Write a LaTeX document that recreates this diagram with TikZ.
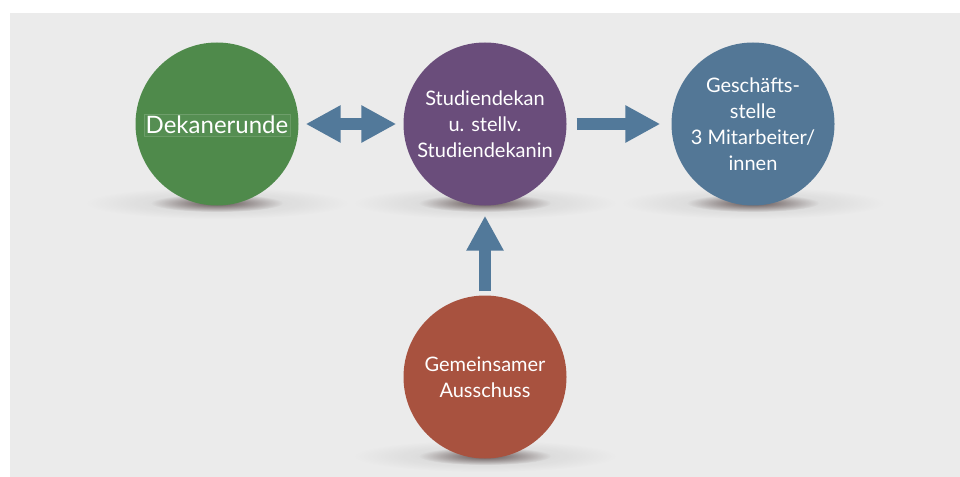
\documentclass[tikz,border=0pt]{standalone}
\usepackage{fontspec}
\setmainfont{Lato}
\usetikzlibrary{arrows.meta,fadings}

\definecolor{bgrey}{HTML}{EBEBEB}
\definecolor{dekgreen}{HTML}{4F8A4B}
\definecolor{studpurple}{HTML}{6A4D7B}
\definecolor{gsblue}{HTML}{537796}
\definecolor{gared}{HTML}{A8523F}
\definecolor{arrowblue}{HTML}{52799A}
\definecolor{shadowbrown}{HTML}{4A3838}

\tikzfading[name=softfade,inner color=transparent!0,outer color=transparent!100]

\tikzset{
  bubble/.style={circle,minimum size=163pt,inner sep=0pt,text=white,align=center,
    font=\fontsize{20}{26}\selectfont},
  blockarrow/.style={draw=arrowblue,line width=12pt},
  tip/.tip={Triangle[length=35pt,width=35pt]}
}

\newcommand{\groundshadow}[2]{%
  \fill[black,opacity=0.12,path fading=softfade] (#1,#2) ellipse (132 and 16);
  \fill[shadowbrown,opacity=0.8,path fading=softfade] (#1,#2) ellipse (66 and 9);
}

\begin{document}
\begin{tikzpicture}[x=1pt,y=-1pt]
  % page and grey backdrop
  \useasboundingbox (0,0) rectangle (960,476);
  \fill[white] (-5,-5) rectangle (970,486);
  \fill[bgrey] (10,13) rectangle (970,486);

  % shadows under the circles
  \groundshadow{217}{203}
  \groundshadow{485}{203}
  \groundshadow{753}{203}
  \groundshadow{485}{456}

  % circles
  \node[bubble,fill=dekgreen] (dekan) at (217,124) {};
  \node[draw=white,draw opacity=0.15,fill=white,fill opacity=0.04,text opacity=1,
    text=white,inner sep=2pt,font=\fontsize{24}{28}\selectfont] (dekantext) at (217,125) {Dekanerunde};
  \node[bubble,fill=studpurple] (studdekan) at (485,124)
    {Studiendekan\\u. stellv.\\Studiendekanin};
  \node[bubble,fill=gsblue] (gstelle) at (753,124)
    {Geschäfts-\\stelle\\3 Mitarbeiter/\\innen};
  \node[bubble,fill=gared] (ausschuss) at (485,377)
    {Gemeinsamer\\Ausschuss};

  % arrows
  \draw[blockarrow,tip-tip,shorten <=7pt,shorten >=7pt] (dekan) -- (studdekan);
  \draw[blockarrow,-tip,shorten <=10pt,shorten >=11pt] (studdekan) -- (gstelle);
  \draw[blockarrow,-tip,shorten <=4pt,shorten >=10pt] (ausschuss) -- (studdekan);
\end{tikzpicture}
\end{document}
